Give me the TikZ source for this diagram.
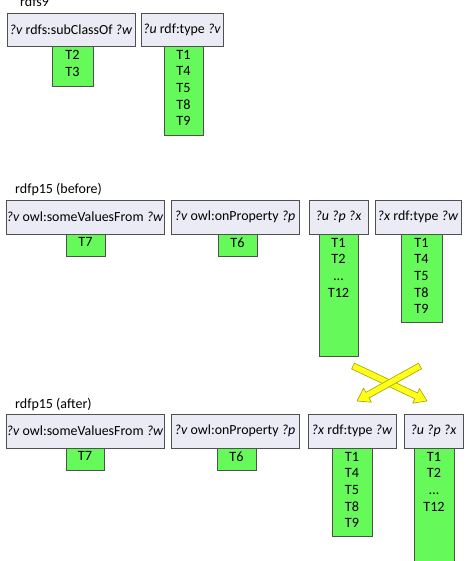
\documentclass[tikz,border=0pt]{standalone}
\usepackage{fontspec}
\setmainfont{Carlito}
\usetikzlibrary{calc}
\definecolor{hdrfill}{HTML}{EBEBF5}
\definecolor{hdrline}{HTML}{505050}
\definecolor{grnfill}{HTML}{66F95A}
\definecolor{arrfill}{HTML}{FFFF1A}
\definecolor{arrline}{HTML}{A0A000}
\tikzset{
  hdr/.style={draw=hdrline, fill=hdrfill, line width=0.8bp, minimum height=33bp, inner sep=0pt, font=\fontsize{13.9bp}{16bp}\selectfont},
  grn/.style={draw=hdrline, fill=grnfill, line width=0.8bp, anchor=north, inner sep=0pt},
  lst/.style={anchor=north, inner sep=0pt, align=center, font=\fontsize{14.2bp}{16.6bp}\selectfont},
  ttl/.style={anchor=west, inner sep=0pt, font=\fontsize{14bp}{16bp}\selectfont},
  yarr/.style={fill=arrfill, draw=arrline, line width=0.6bp, line join=miter}
}
\newcommand{\vv}[1]{\textit{#1}}
\begin{document}
\begin{tikzpicture}[x=1bp,y=-1bp]
\useasboundingbox (0,0) rectangle (467,561);
% ---- rdfs9
\node[anchor=base west, inner sep=0pt, font=\fontsize{14bp}{16bp}\selectfont] (t1) at (20,7) {rdfs9};
\node[hdr, minimum width=128bp] (a1) at (71,29.5) {\vv{?v} rdfs:subClassOf \vv{?w}};
\node[grn, minimum width=41bp, minimum height=40bp] (ga1) at (72.5,46) {};
\node[lst] (la1) at ($(ga1.north)+(0,4)$) {T2\\T3};
\node[hdr, minimum width=82bp] (a2) at (182,29.5) {\vv{?u} rdf:type \vv{?v}};
\node[grn, minimum width=39bp, minimum height=89bp] (ga2) at (183.5,46) {};
\node[lst] (la2) at ($(ga2.north)+(0,4)$) {T1\\T4\\T5\\T8\\T9};
% ---- rdfp15 (before)
\node[ttl] (t2) at (15,190) {rdfp15 (before)};
\node[hdr, minimum width=158bp, minimum height=34bp] (b1) at (85,217) {\vv{?v} owl:someValuesFrom \vv{?w}};
\node[grn, minimum width=39bp, minimum height=22bp] (gb1) at (85.5,234) {};
\node[lst] (lb1) at ($(gb1.north)+(0,3.5)$) {T7};
\node[hdr, minimum width=128bp, minimum height=34bp] (b2) at (235,217) {\vv{?v} owl:onProperty \vv{?p}};
\node[grn, minimum width=39bp, minimum height=22bp] (gb2) at (237.5,234) {};
\node[lst] (lb2) at ($(gb2.north)+(0,3.5)$) {T6};
\node[hdr, minimum width=59bp, minimum height=34bp] (b3) at (338.5,217) {\vv{?u ?p ?x}};
\node[grn, minimum width=39bp, minimum height=122bp] (gb3) at (338.5,234) {};
\node[lst] (lb3) at ($(gb3.north)+(0,4)$) {T1\\T2\\…\\T12};
\node[hdr, minimum width=86bp, minimum height=34bp] (b4) at (418,217) {\vv{?x} rdf:type \vv{?w}};
\node[grn, minimum width=41bp, minimum height=88bp] (gb4) at (421.5,234) {};
\node[lst] (lb4) at ($(gb4.north)+(0,4)$) {T1\\T4\\T5\\T8\\T9};
% ---- arrows
\coordinate (pa) at (420,366);
\coordinate (qa) at (357,401);
\coordinate (pb) at (353,366);
\coordinate (qb) at (427,401);
\coordinate (ha) at ($(qa)!12bp!(pa)$);
\coordinate (hb) at ($(qb)!12bp!(pb)$);
\path[yarr] ($(pb)!3.2bp!90:(qb)$) -- ($(hb)!3.2bp!90:(qb)$) -- ($(hb)!8bp!90:(qb)$) -- (qb)
  -- ($(hb)!8bp!-90:(qb)$) -- ($(hb)!3.2bp!-90:(qb)$) -- ($(pb)!3.2bp!-90:(qb)$) -- cycle;
\path[yarr] ($(pa)!3.2bp!90:(qa)$) -- ($(ha)!3.2bp!90:(qa)$) -- ($(ha)!8bp!90:(qa)$) -- (qa)
  -- ($(ha)!8bp!-90:(qa)$) -- ($(ha)!3.2bp!-90:(qa)$) -- ($(pa)!3.2bp!-90:(qa)$) -- cycle;
% ---- rdfp15 (after)
\node[ttl] (t3) at (15,405) {rdfp15 (after)};
\node[hdr, minimum width=158bp, minimum height=34bp] (c1) at (85,431) {\vv{?v} owl:someValuesFrom \vv{?w}};
\node[grn, minimum width=38bp, minimum height=22bp] (gc1) at (85,448) {};
\node[lst] (lc1) at ($(gc1.north)+(0,3.5)$) {T7};
\node[hdr, minimum width=128bp, minimum height=34bp] (c2) at (235,431) {\vv{?v} owl:onProperty \vv{?p}};
\node[grn, minimum width=39bp, minimum height=22bp] (gc2) at (236.5,448) {};
\node[lst] (lc2) at ($(gc2.north)+(0,3.5)$) {T6};
\node[hdr, minimum width=88bp, minimum height=34bp] (c3) at (352,431) {\vv{?x} rdf:type \vv{?w}};
\node[grn, minimum width=40bp, minimum height=88bp] (gc3) at (352,448) {};
\node[lst] (lc3) at ($(gc3.north)+(0,4)$) {T1\\T4\\T5\\T8\\T9};
\node[hdr, minimum width=59bp, minimum height=34bp] (c4) at (433.5,431) {\vv{?u ?p ?x}};
\node[grn, minimum width=40bp, minimum height=122bp] (gc4) at (434,448) {};
\node[lst] (lc4) at ($(gc4.north)+(0,4)$) {T1\\T2\\…\\T12};
\end{tikzpicture}
\end{document}
